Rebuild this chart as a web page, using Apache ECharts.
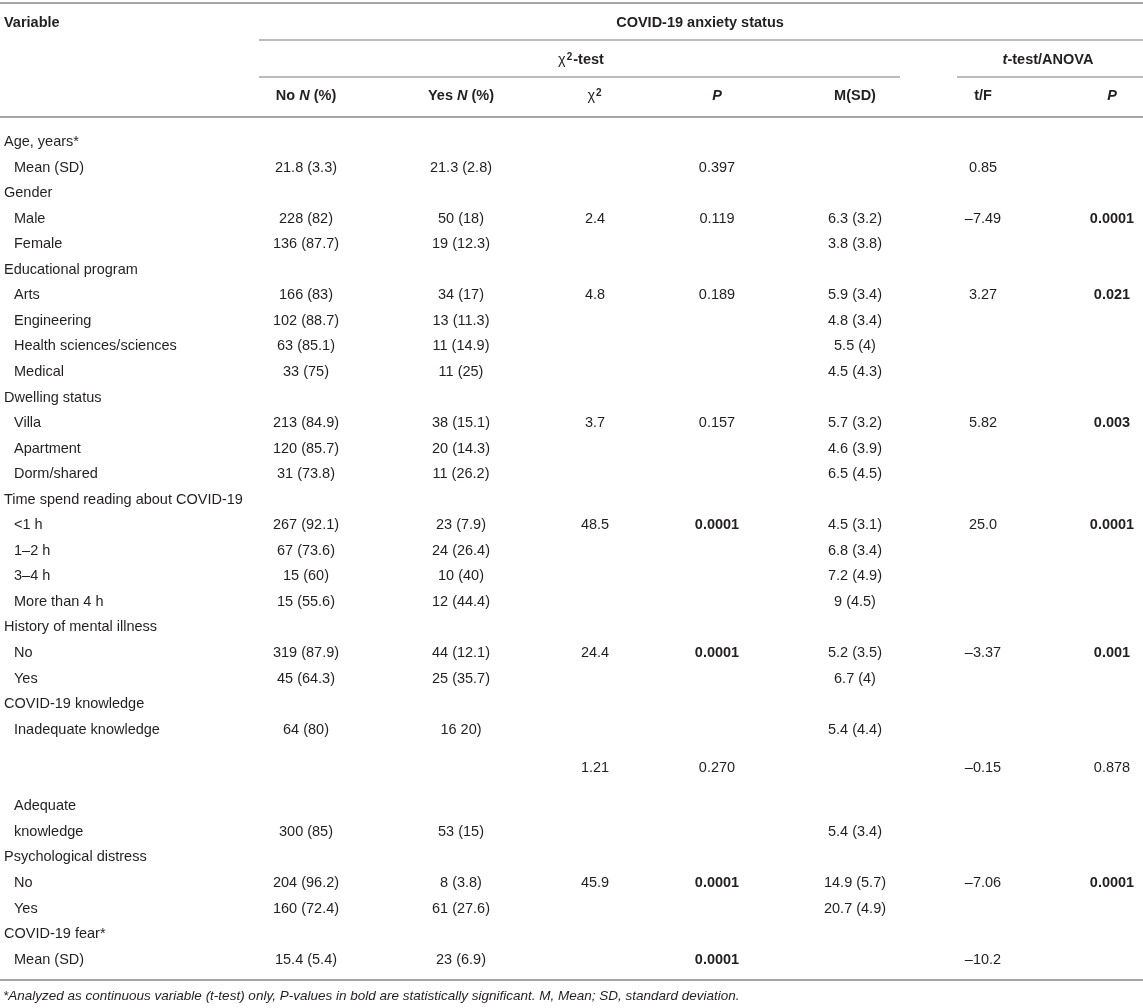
<!DOCTYPE html>
<html lang="en">
<head>
<meta charset="utf-8">
<title>COVID-19 anxiety status</title>
<script src="https://cdn.jsdelivr.net/npm/echarts@6/dist/echarts.min.js"></script>
<style>
    html, body { margin: 0; padding: 0; background: #fff; }
    #table { width: 1143px; height: 1008px; }
</style>
</head>
<body>
<div id="table"></div>
<script>
// row labels (indent = 1 for sub rows)
var rowLabels = ['Age, years*', 'Mean (SD)', 'Gender', 'Male', 'Female', 'Educational program',
    'Arts', 'Engineering', 'Health sciences/sciences', 'Medical', 'Dwelling status', 'Villa',
    'Apartment', 'Dorm/shared', 'Time spend reading about COVID-19', '<1 h', '1–2 h', '3–4 h',
    'More than 4 h', 'History of mental illness', 'No', 'Yes', 'COVID-19 knowledge',
    'Inadequate knowledge', '', 'Adequate', 'knowledge', 'Psychological distress', 'No', 'Yes',
    'COVID-19 fear*', 'Mean (SD)'];
var rowIndent = [0, 1, 0, 1, 1, 0, 1, 1, 1, 1, 0, 1, 1, 1, 0, 1, 1, 1, 1, 0, 1, 1, 0, 1, 0, 1, 1, 0, 1, 1, 0, 1];

var noN = ['', '21.8 (3.3)', '', '228 (82)', '136 (87.7)', '', '166 (83)', '102 (88.7)', '63 (85.1)', '33 (75)',
    '', '213 (84.9)', '120 (85.7)', '31 (73.8)', '', '267 (92.1)', '67 (73.6)', '15 (60)', '15 (55.6)',
    '', '319 (87.9)', '45 (64.3)', '', '64 (80)', '', '', '300 (85)', '', '204 (96.2)', '160 (72.4)', '', '15.4 (5.4)'];
var yesN = ['', '21.3 (2.8)', '', '50 (18)', '19 (12.3)', '', '34 (17)', '13 (11.3)', '11 (14.9)', '11 (25)',
    '', '38 (15.1)', '20 (14.3)', '11 (26.2)', '', '23 (7.9)', '24 (26.4)', '10 (40)', '12 (44.4)',
    '', '44 (12.1)', '25 (35.7)', '', '16 20)', '', '', '53 (15)', '', '8 (3.8)', '61 (27.6)', '', '23 (6.9)'];
var chiSq = ['', '', '', '2.4', '', '', '4.8', '', '', '', '', '3.7', '', '', '', '48.5', '', '', '',
    '', '24.4', '', '', '', '1.21', '', '', '', '45.9', '', '', ''];
var pChi = ['', '0.397', '', '0.119', '', '', '0.189', '', '', '', '', '0.157', '', '', '', '0.0001', '', '', '',
    '', '0.0001', '', '', '', '0.270', '', '', '', '0.0001', '', '', '0.0001'];
var meanSD = ['', '', '', '6.3 (3.2)', '3.8 (3.8)', '', '5.9 (3.4)', '4.8 (3.4)', '5.5 (4)', '4.5 (4.3)',
    '', '5.7 (3.2)', '4.6 (3.9)', '6.5 (4.5)', '', '4.5 (3.1)', '6.8 (3.4)', '7.2 (4.9)', '9 (4.5)',
    '', '5.2 (3.5)', '6.7 (4)', '', '5.4 (4.4)', '', '', '5.4 (3.4)', '', '14.9 (5.7)', '20.7 (4.9)', '', ''];
var tF = ['', '0.85', '', '–7.49', '', '', '3.27', '', '', '', '', '5.82', '', '', '', '25.0', '', '', '',
    '', '–3.37', '', '', '', '–0.15', '', '', '', '–7.06', '', '', '–10.2'];
var pT = ['', '', '', '0.0001', '', '', '0.021', '', '', '', '', '0.003', '', '', '', '0.0001', '', '', '',
    '', '0.001', '', '', '', '0.878', '', '', '', '0.0001', '', '', ''];

var colHeads = ['{b|No }{bi|N}{b| (%)}', '{b|Yes }{bi|N}{b| (%)}', '{g|χ}{sup|2}', '{bi|P}', '{b|M(SD)}', '{b|t/F}', '{bi|P}'];
var footnote = '*Analyzed as continuous variable (t-test) only, P-values in bold are statistically significant. M, Mean; SD, standard deviation.';

// layout (pixel units of the hidden axes)
var FONT = "'Liberation Sans', Arial, sans-serif";
var FS = 14.5;
var INK = '#231f20';
var colX = [306, 461, 595, 717, 855, 983, 1112];
var firstRowY = 142, rowStep = 25.55;
function rowY(i) {
    // the chi-square row of COVID-19 knowledge sits between its two sub rows
    var extra = i < 24 ? 0 : (i === 24 ? 0.5 : 1);
    return firstRowY + (i + extra) * rowStep;
}

var rich = {
    b: { fontWeight: 'bold', fontSize: FS, fontFamily: FONT, fill: INK },
    bi: { fontWeight: 'bold', fontStyle: 'italic', fontSize: FS, fontFamily: FONT, fill: INK },
    g: { fontSize: FS, fontFamily: FONT, fill: INK },
    sup: { fontWeight: 'bold', fontSize: 10, fontFamily: FONT, fill: INK, verticalAlign: 'top', padding: [0, 1, 0, 1] },
    i: { fontStyle: 'italic', fontSize: 13.5, fontFamily: FONT, fill: INK }
};

var cells = [];
function cell(x, y, text, align, bold, italic, size) {
    if (text === '') return;
    cells.push({ x: x, y: y, text: text, align: align || 'center', bold: !!bold, italic: !!italic, size: size || FS });
}

// header
cell(4, 23, 'Variable', 'left', true);
cell(700, 23, 'COVID-19 anxiety status', 'center', true);
cell(581, 60, '{g|χ}{sup|2}{b|-test}', 'center', true);
cell(1048, 60, '{bi|t}{b|-test/ANOVA}', 'center', true);
colHeads.forEach(function (h, k) { cell(colX[k], 96, h, 'center', true); });

// body
var columns = [noN, yesN, chiSq, pChi, meanSD, tF, pT];
rowLabels.forEach(function (lab, i) {
    var y = rowY(i);
    cell(rowIndent[i] ? 14 : 4, y, lab, 'left');
    columns.forEach(function (col, k) {
        var v = col[i];
        var isP = (k === 3 || k === 6);
        cell(colX[k], y, v, 'center', isP && v !== '' && parseFloat(v) < 0.05);
    });
});

cell(3, 996, '{i|' + footnote + '}', 'left', false, true, 13.5);

// rules: [x1, y, x2, width]
var rules = [
    [0, 3, 1143, 2],
    [259, 40, 1143, 1.5],
    [259, 77, 900, 1.5],
    [957, 77, 1143, 1.5],
    [0, 117, 1143, 2],
    [0, 980, 1143, 2]
];

var chart = echarts.init(document.getElementById('table'));
chart.setOption({
    animation: false,
    grid: { left: 0, right: 0, top: 0, bottom: 0 },
    xAxis: { type: 'value', min: 0, max: 1143, show: false },
    yAxis: { type: 'value', min: 0, max: 1008, inverse: true, show: false },
    series: [
        {
            type: 'custom',
            silent: true,
            clip: false,
            data: rules,
            renderItem: function (params, api) {
                var a = api.coord([api.value(0), api.value(1)]);
                var b = api.coord([api.value(2), api.value(1)]);
                return {
                    type: 'line',
                    shape: { x1: a[0], y1: a[1], x2: b[0], y2: b[1] },
                    style: { stroke: '#a6a6a6', lineWidth: api.value(3) }
                };
            }
        },
        {
            type: 'custom',
            silent: true,
            clip: false,
            data: cells.map(function (c) { return [c.x, c.y]; }),
            renderItem: function (params, api) {
                var c = cells[params.dataIndex];
                var p = api.coord([api.value(0), api.value(1)]);
                return {
                    type: 'text',
                    style: {
                        text: c.text,
                        rich: rich,
                        x: p[0],
                        y: p[1],
                        align: c.align,
                        verticalAlign: 'middle',
                        fontFamily: FONT,
                        fontSize: c.size,
                        fontWeight: c.bold ? 'bold' : 'normal',
                        fontStyle: c.italic ? 'italic' : 'normal',
                        fill: INK
                    }
                };
            }
        }
    ]
});
</script>
</body>
</html>
